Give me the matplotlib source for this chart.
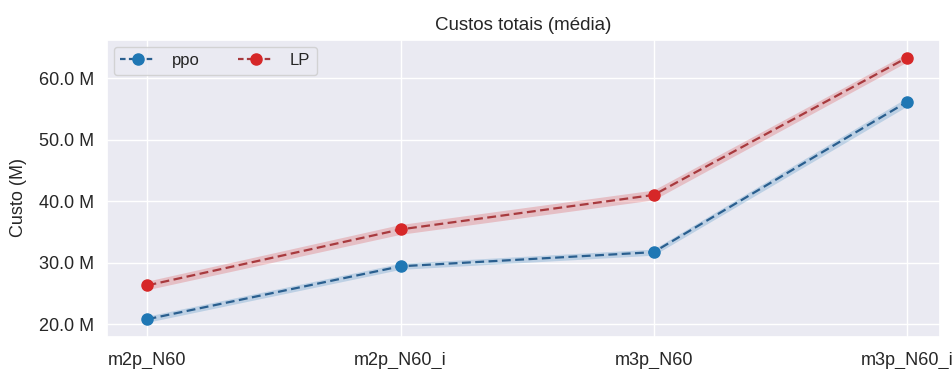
import matplotlib
matplotlib.use("Agg")
import matplotlib.pyplot as plt
import seaborn as sns
import numpy as np
from matplotlib.ticker import FuncFormatter
from matplotlib.lines import Line2D

sns.set_theme(style="darkgrid")
plt.rcParams['font.family'] = ['Liberation Sans', 'DejaVu Sans']

categories = ["m2p_N60", "m2p_N60_i", "m3p_N60", "m3p_N60_i"]
ppo_mean = [20.8, 29.4, 31.7, 56.1]
ppo_err = [0.5, 0.5, 0.5, 0.7]
lp_mean = [26.3, 35.4, 41.0, 63.3]
lp_err = [0.7, 0.8, 0.8, 0.7]

fig = plt.figure(figsize=(9.52, 3.69), dpi=100)
ax = fig.add_axes([0.1124, 0.0867, 0.8746, 0.8049])

x = np.arange(len(categories))
series = [("ppo", ppo_mean, ppo_err, "#1f77b4", "#2a5f8f"),
          ("LP", lp_mean, lp_err, "#d62728", "#a83a3e")]
for name, m, e, c, lc in series:
    m = np.array(m); e = np.array(e)
    ax.fill_between(x, m - e, m + e, color=c, alpha=0.22, linewidth=0)
    ax.plot(x, m, linestyle="--", color=lc, linewidth=1.6, dashes=(4, 2), zorder=3)
    ax.plot(x, m, linestyle="none", marker="o", markersize=8, color=c, zorder=4)

handles = [Line2D([], [], color=s[4], linestyle="--", linewidth=1.6, dashes=(2.5, 1.5),
                  marker="o", markersize=8, markerfacecolor=s[3], markeredgecolor=s[3])
           for s in series]
ax.legend(handles, [s[0] for s in series], loc="upper left", ncol=2, fontsize=12,
          frameon=True, handlelength=2.1, handletextpad=1.0, columnspacing=2.3,
          borderaxespad=0.4)

ax.set_xticks(x)
ax.set_xticklabels(categories, fontsize=13)
ax.set_xlim(-0.16, 3.13)
ax.set_ylim(17.9, 66.2)
ax.set_yticks([20, 30, 40, 50, 60])
ax.yaxis.set_major_formatter(FuncFormatter(lambda v, p: f"{v:.1f} M"))
ax.tick_params(axis='y', labelsize=13)
ax.tick_params(axis='x', pad=5)
ax.set_ylabel("Custo (M)", fontsize=13)
ax.yaxis.set_label_coords(-0.096, 0.47)
ax.set_title("Custos totais (média)", fontsize=13.5, pad=7)

fig.savefig("out.png", dpi=100)
